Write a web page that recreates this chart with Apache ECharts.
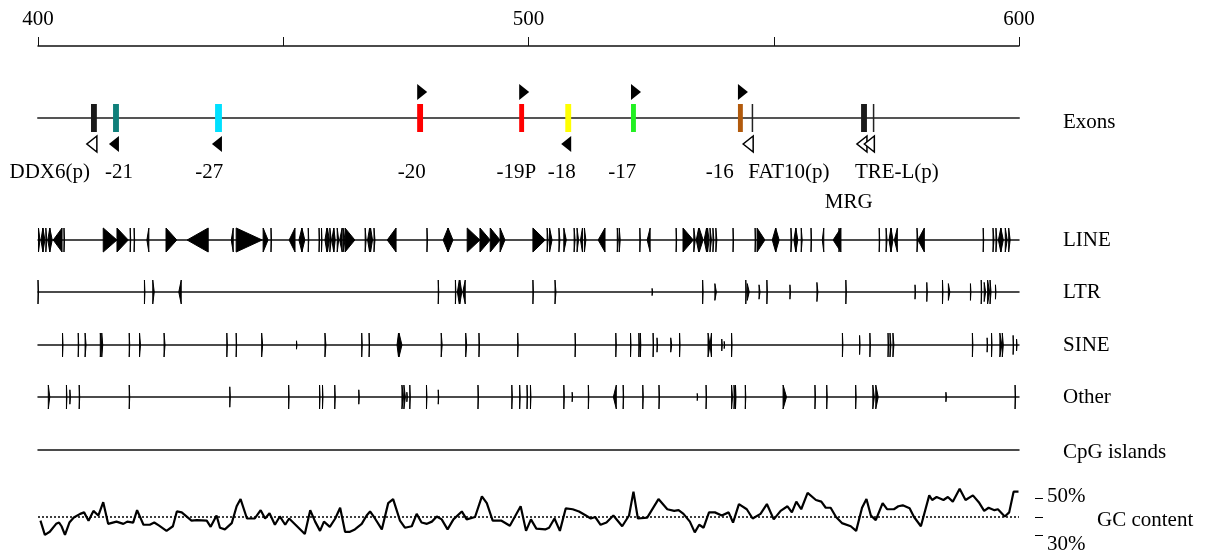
<!DOCTYPE html>
<html>
<head>
<meta charset="utf-8">
<title>Region 400-600</title>
<script src="https://cdn.jsdelivr.net/npm/echarts@6/dist/echarts.min.js"></script>
<style>
  html, body { margin: 0; padding: 0; background: #fff; }
  #chart { width: 1207px; height: 555px; }
</style>
</head>
<body>
<div id="chart"></div>
<script>
// ---- data (kb) ----
const axisTicks = [400, 450, 500, 550, 600]
const axisLabels = ['400', '', '500', '', '600']

const exonNames = ['DDX6(p)', '-21', '-27', '-20', '-19P', '-18', '-17', '-16', 'FAT10(p)', 'MRG', 'TRE-L(p)']
const exonStart = [410.8, 415.3, 436.1, 477.3, 498.1, 507.5, 520.9, 542.7, 545.5, 567.8, 570.2]
const exonEnd = [412.0, 416.5, 437.5, 478.5, 499.1, 508.7, 521.9, 543.7, 545.8, 569.0, 570.5]
const exonStrand = [-1, -1, -1, 1, 1, -1, 1, 1, -1, -1, -1]
const exonKind = ['gene', 'exon', 'exon', 'exon', 'exon', 'exon', 'exon', 'exon', 'gene', 'gene', 'gene']
const exonLabelAt = [402.4, 416.5, 434.9, 476.2, 497.5, 506.8, 519.1, 539.0, 553.1, 565.3, 575.1]
const exonLabelRow = [0, 0, 0, 0, 0, 0, 0, 0, 0, 1, 0]

// repeats: [start, end, strand, score]
const LINE = [
  [400.1, 400.4, 1], [400.6, 401.0, -1], [401.0, 401.4, 1], [401.6, 401.8, 1], [402.0, 402.4, -1], [402.4, 402.9, 1],
  [403.1, 404.9, -1], [405.3, 405.4, 1],
  [413.3, 416.1, 1], [416.1, 418.4, 1], [418.8, 418.9, 1], [419.6, 419.7, 1],
  [422.2, 422.6, -1], [426.1, 428.3, 1], [430.4, 434.7, -1],
  [439.4, 439.8, -1], [440.4, 445.7, 1], [445.9, 446.9, 1], [447.5, 447.6, 1],
  [451.2, 452.4, -1], [453.2, 453.8, -1], [453.8, 454.4, 1], [455.1, 455.2, 1],
  [457.3, 457.4, 1], [457.8, 457.9, 1], [458.5, 458.9, -1], [459.0, 459.4, 1], [459.5, 459.8, 1], [459.9, 460.3, -1],
  [460.3, 460.6, 1], [461.0, 461.3, 1], [461.5, 462.0, -1], [462.2, 462.6, 1], [462.6, 464.6, 1],
  [466.7, 466.9, 1], [467.2, 467.6, -1], [467.8, 468.2, 1], [468.5, 468.7, 1],
  [471.2, 473.0, -1], [479.3, 479.4, 1],
  [482.6, 483.6, -1], [483.6, 484.6, 1],
  [487.5, 490.1, 1], [490.1, 492.2, 1], [492.2, 494.2, 1], [494.2, 495.2, 1],
  [500.9, 503.4, 1], [503.8, 504.0, 1], [504.3, 504.8, 1], [506.2, 506.4, 1], [507.2, 507.7, 1],
  [509.3, 509.5, 1], [509.9, 510.2, 1], [510.6, 511.0, -1], [511.4, 511.7, 1],
  [514.2, 515.6, -1], [518.1, 518.3, 1], [518.5, 518.7, 1], [522.7, 522.8, 1], [524.2, 524.8, -1], [530.1, 530.2, 1],
  [531.5, 533.6, 1], [533.7, 534.0, 1], [534.2, 534.7, -1], [534.8, 535.6, 1], [535.8, 536.3, -1], [536.5, 536.8, 1],
  [537.0, 537.3, 1], [537.6, 537.8, 1], [538.2, 538.4, 1],
  [541.7, 541.8, 1], [546.2, 546.3, 1], [546.6, 548.2, 1],
  [549.7, 550.4, -1], [550.4, 551.1, 1],
  [553.5, 553.7, 1], [554.1, 554.5, -1], [554.5, 554.9, 1], [555.6, 555.8, 1],
  [557.6, 557.7, 1], [559.9, 560.2, -1], [562.1, 563.7, -1], [563.3, 563.5, 1],
  [571.5, 571.6, 1], [572.9, 573.1, 1], [573.5, 573.9, -1], [573.9, 574.3, 1], [574.6, 575.2, -1],
  [579.2, 579.4, 1], [579.4, 580.7, -1],
  [592.7, 592.8, 1], [594.7, 594.9, 1], [595.3, 595.5, 1], [595.8, 596.3, -1], [596.3, 596.8, 1], [597.2, 597.6, 1], [597.9, 598.2, 1]
]

const LTR = [
  [400.0, 400.1, 1], [421.7, 421.8, 1], [423.4, 423.7, 1], [428.7, 429.2, -1],
  [481.6, 481.7, 1], [485.1, 485.2, 1], [485.5, 485.9, -1], [486.0, 486.4, 1], [486.6, 487.1, -1],
  [500.9, 501.0, 1], [505.4, 505.6, 1], [525.2, 525.3, 1, 0.3],
  [535.5, 535.6, 1], [538.0, 538.3, 1, 0.7],
  [544.3, 544.4, 1], [544.6, 545.0, 1, 0.7], [547.0, 547.2, 1, 0.6], [548.6, 548.7, 1],
  [553.3, 553.4, 1, 0.6], [558.8, 559.0, 1, 0.8], [564.7, 564.8, 1],
  [578.8, 578.9, 1, 0.6], [581.2, 581.3, 1, 0.8], [584.4, 584.5, 1], [585.6, 585.9, 1, 0.7], [590.1, 590.2, 1, 0.7],
  [592.3, 592.4, 1], [592.9, 593.2, 1, 0.8], [593.6, 594.0, 1], [594.1, 594.3, 1], [595.2, 595.3, 1, 0.6]
]

const SINE = [
  [405.0, 405.1, 1], [408.2, 408.3, 1], [409.6, 409.8, 1], [412.7, 413.0, 1], [413.0, 413.2, 1], [418.6, 418.7, 1],
  [420.7, 420.9, 1], [425.7, 425.9, 1],
  [438.5, 438.6, 1], [440.4, 440.5, 1], [445.6, 445.8, 1], [452.7, 452.8, 1, 0.35], [458.5, 458.7, 1],
  [466.0, 466.1, 1], [467.5, 467.6, 1], [473.2, 473.5, -1], [473.6, 474.2, 1], [482.2, 482.4, 1], [487.2, 487.4, 1],
  [489.9, 490.0, 1], [497.8, 497.9, 1],
  [509.5, 509.6, 1], [517.8, 517.9, 1], [520.8, 520.9, 1], [522.5, 522.6, 1], [522.8, 522.9, 1], [525.4, 525.5, 1],
  [526.2, 526.3, 1, 0.6], [529.0, 529.2, 1, 0.6], [530.8, 530.9, 1],
  [536.6, 537.0, 1], [537.0, 537.3, -1], [539.4, 539.5, 1, 0.5], [539.9, 540.0, 1, 0.3], [541.4, 541.5, 1],
  [564.0, 564.1, 1], [567.5, 567.6, 1, 0.8], [569.6, 569.7, 1], [573.3, 573.4, 1], [573.7, 573.9, 1], [574.3, 574.5, 1],
  [590.5, 590.6, 1], [593.5, 593.6, 1, 0.6], [594.4, 594.5, 1], [596.1, 596.5, 1], [596.6, 596.8, 1],
  [598.8, 598.9, 1, 0.8], [599.5, 599.6, 1, 0.5]
]

const OTHER = [
  [402.1, 402.4, 1], [405.8, 405.9, 1], [406.5, 406.6, 1, 0.6], [408.4, 408.5, 1], [418.6, 418.7, 1], [439.1, 439.2, 1, 0.85],
  [451.1, 451.2, 1], [457.4, 457.5, 1], [458.0, 458.1, 1], [460.5, 460.6, 1], [465.4, 465.5, 1, 0.6],
  [474.2, 474.5, 1], [474.6, 474.9, 1], [475.2, 475.3, 1, 0.4], [475.8, 475.9, 1], [479.2, 479.3, 1], [481.6, 481.7, 1, 0.6],
  [489.7, 489.8, 1], [496.6, 496.7, 1], [498.2, 498.3, 1], [499.7, 499.8, 1], [500.4, 500.5, 1],
  [507.2, 507.3, 1], [508.9, 509.0, 1, 0.4], [512.2, 512.3, 1], [517.3, 517.9, -1], [519.3, 519.4, 1], [523.3, 523.4, 1],
  [526.6, 526.7, 1], [534.4, 534.5, 1, 0.3], [536.2, 536.3, 1], [541.4, 541.6, 1], [541.9, 542.1, 1], [542.2, 542.3, 1],
  [544.2, 544.3, 1], [551.9, 552.6, 1], [558.4, 558.5, 1], [560.8, 560.9, 1], [566.7, 566.8, 1], [570.2, 570.5, 1],
  [570.8, 571.3, 1], [585.1, 585.2, 1, 0.4], [599.2, 599.3, 1]
]

const CPG = []

const trackNames = ['LINE', 'LTR', 'SINE', 'Other', 'CpG islands']
const trackData = [LINE, LTR, SINE, OTHER, CPG]

// GC content (%), window positions in kb
const gcPos = [
  400.5, 401.4, 402.4, 403.7, 404.3, 404.8, 405.5, 406.4, 407.3, 408.6, 409.4, 410.3, 411.3, 412.3, 413.3, 414.3,
  416.0, 417.4, 418.2, 419.4, 420.2, 421.5, 422.8, 423.7, 424.7, 426.2, 427.5, 428.3, 429.3, 431.3, 432.4, 434.4,
  435.2, 436.4, 437.1, 438.1, 439.5, 440.5, 441.3, 442.6, 444.2, 445.4, 446.3, 447.2, 448.3, 449.3, 450.4, 451.2,
  452.7, 454.4, 455.5, 456.5, 457.5, 458.3, 459.5, 460.6, 461.6, 462.6, 463.6, 464.6, 466.0, 467.0, 467.7, 468.7,
  470.1, 471.4, 472.4, 473.8, 474.8, 476.2, 477.2, 478.2, 479.3, 480.3, 481.3, 482.3, 483.5, 484.7, 486.4, 487.4,
  489.1, 490.5, 491.5, 492.7, 494.5, 496.2, 498.4, 499.5, 500.5, 501.6, 503.4, 504.2, 505.3, 506.4, 507.6, 509.0,
  510.3, 511.7, 512.7, 513.6, 514.7, 515.9, 517.3, 519.1, 520.5, 521.4, 522.3, 524.2, 526.5, 528.3, 529.7, 530.6,
  531.6, 532.9, 533.9, 534.8, 535.7, 536.8, 538.0, 539.4, 540.8, 541.7, 542.9, 544.5, 545.7, 547.3, 548.6, 550.0,
  551.4, 552.8, 553.7, 554.6, 555.6, 556.9, 558.6, 559.7, 560.6, 561.6, 562.7, 563.9, 565.7, 566.8, 568.0, 568.9,
  569.8, 570.8, 572.2, 573.1, 574.5, 575.4, 576.3, 577.7, 578.6, 580.0, 581.7, 582.3, 583.2, 584.6, 585.5, 586.5,
  587.9, 589.1, 590.6, 591.8, 592.9, 593.8, 595.0, 595.7, 597.1, 598.0, 598.9, 599.9
]
const gcValue = [
  38.0, 30.3, 32.0, 36.3, 37.0, 35.0, 30.3, 37.0, 39.7, 41.7, 42.5, 38.0, 43.3, 40.8, 48.0, 36.3,
  37.5, 36.3, 37.5, 37.0, 43.7, 35.8, 35.8, 37.0, 35.3, 32.5, 35.0, 43.0, 42.5, 38.0, 38.3, 38.0,
  34.7, 40.8, 34.2, 33.3, 36.7, 45.8, 49.7, 39.2, 39.2, 43.7, 39.2, 42.0, 35.8, 40.3, 35.8, 39.2,
  35.3, 30.8, 43.7, 37.5, 32.5, 37.5, 34.7, 39.2, 45.0, 32.0, 32.0, 33.3, 36.3, 40.8, 43.0, 39.2,
  33.3, 47.5, 49.7, 38.0, 34.2, 35.0, 41.7, 37.0, 36.3, 37.5, 40.3, 38.7, 33.3, 38.7, 43.0, 38.7,
  40.0, 51.2, 47.5, 38.0, 38.0, 35.3, 45.8, 32.5, 38.7, 33.7, 33.3, 34.2, 39.2, 32.5, 44.7, 44.2,
  43.0, 40.8, 39.2, 40.0, 35.8, 37.0, 40.8, 35.0, 40.8, 53.7, 39.2, 39.7, 49.7, 44.2, 43.3, 43.7,
  41.7, 37.5, 31.7, 35.8, 34.2, 42.5, 42.5, 40.8, 42.5, 37.0, 47.0, 44.2, 39.2, 41.7, 47.0, 38.7,
  43.3, 45.8, 42.5, 48.3, 44.2, 53.0, 49.2, 48.3, 45.0, 45.0, 40.0, 36.7, 35.0, 32.5, 45.0, 49.7,
  40.8, 38.3, 47.5, 44.2, 44.2, 45.8, 46.3, 44.7, 40.0, 35.0, 51.7, 49.2, 50.8, 49.2, 50.8, 48.3,
  55.3, 49.2, 51.7, 48.0, 43.3, 45.0, 43.7, 44.2, 40.3, 42.5, 53.7, 53.7
]
const gcTicks = [30, 40, 50]
const gcBaseline = 40

// ---- layout / styles ----
const FONT = '"Liberation Serif", "Times New Roman", serif'
const FS = 21
const LEFT = 38
const RIGHT = 188
const exonY = 118
const trackY = [240, 292, 345, 397, 450]
const exonColors = {
  'DDX6(p)': '#1a1a1a',
  '-21': '#0f7f7a',
  '-27': '#00e0ff',
  '-20': '#ff0000',
  '-19P': '#ff0000',
  '-18': '#ffff00',
  '-17': '#22f022',
  '-16': '#b25a0c',
  'FAT10(p)': '#222',
  MRG: '#1a1a1a',
  'TRE-L(p)': '#222'
}

const chart = echarts.init(document.getElementById('chart'), null, { renderer: 'canvas' })

function trackXAxis (gridIndex, lineColor, lineWidth) {
  return {
    type: 'value',
    gridIndex: gridIndex,
    min: 400,
    max: 600,
    axisLine: { show: true, onZero: true, lineStyle: { color: lineColor, width: lineWidth } },
    axisTick: { show: false },
    axisLabel: { show: false },
    splitLine: { show: false }
  }
}

// triangle pointing along the strand, base at the 5' end
function renderRepeat (params, api) {
  const a = api.coord([api.value(0), 0])
  const b = api.coord([api.value(1), 0])
  const h = api.size([0, 1])[1] * api.value(3)
  const y = a[1]
  const pts = api.value(2) > 0
    ? [[a[0], y - h], [a[0], y + h], [b[0], y]]
    : [[b[0], y - h], [b[0], y + h], [a[0], y]]
  return {
    type: 'polygon',
    shape: { points: pts },
    style: { fill: '#000', stroke: '#000', lineWidth: 1 }
  }
}

function renderExon (params, api) {
  const i = params.dataIndex
  const top = api.coord([api.value(0), 1])
  const bottom = api.coord([api.value(1), -1])
  const yc = (top[1] + bottom[1]) / 2
  const name = exonNames[i]
  const children = [{
    type: 'rect',
    shape: { x: top[0], y: top[1], width: Math.max(bottom[0] - top[0], 1.5), height: bottom[1] - top[1] },
    style: { fill: exonColors[name] }
  }]
  const open = exonKind[i] === 'gene'
  let pts
  if (exonStrand[i] > 0) {
    const ay = yc - 26
    pts = [[top[0], ay - 8], [top[0], ay + 8], [top[0] + 10, ay]]
  } else {
    const ay = yc + 26
    const xr = Math.max(bottom[0], top[0] + 1.5)
    pts = [[xr, ay - 8], [xr, ay + 8], [xr - 10, ay]]
  }
  children.push({
    type: 'polygon',
    shape: { points: pts },
    style: open ? { fill: '#fff', stroke: '#000', lineWidth: 1.5 } : { fill: '#000' }
  })
  const lx = api.coord([exonLabelAt[i], 0])[0]
  children.push({
    type: 'text',
    x: lx,
    y: yc + 54 + exonLabelRow[i] * 30,
    style: { text: name, font: FS + 'px ' + FONT, fill: '#000', align: 'center', verticalAlign: 'middle' }
  })
  return { type: 'group', children: children }
}

const grids = [
  { left: LEFT, right: RIGHT, top: 45, height: 1 },
  { left: LEFT, right: RIGHT, top: exonY - 14, height: 28 }
]
trackY.forEach(function (y) {
  grids.push({ left: LEFT, right: RIGHT, top: y - 12, height: 24 })
})
grids.push({ left: LEFT, right: RIGHT, top: 480, height: 80 })

const xAxes = [{
  type: 'value',
  gridIndex: 0,
  position: 'top',
  min: 400,
  max: 600,
  interval: 50,
  axisLine: { lineStyle: { color: '#111', width: 1.5 } },
  axisTick: { length: 9, lineStyle: { color: '#111', width: 1 } },
  axisLabel: {
    margin: 15,
    color: '#000',
    fontFamily: FONT,
    fontSize: FS,
    formatter: function (v) { return axisLabels[axisTicks.indexOf(v)] || '' }
  },
  splitLine: { show: false }
}, trackXAxis(1, '#555', 2)]
const yAxes = [
  { type: 'value', gridIndex: 0, show: false },
  { type: 'value', gridIndex: 1, show: false, min: -1, max: 1 }
]
trackY.forEach(function (y, k) {
  xAxes.push(trackXAxis(k + 2, '#111', 1.5))
  yAxes.push({ type: 'value', gridIndex: k + 2, show: false, min: -1, max: 1 })
})
const gcGrid = trackY.length + 2
xAxes.push({
  type: 'value', gridIndex: gcGrid, min: 400, max: 600, show: false
})
yAxes.push({
  type: 'value',
  gridIndex: gcGrid,
  position: 'right',
  offset: 16,
  min: 20,
  max: 60,
  interval: 10,
  axisLine: { show: false },
  axisTick: { show: true, customValues: gcTicks, length: 8, lineStyle: { color: '#000', width: 1 } },
  axisLabel: {
    customValues: gcTicks,
    margin: 12,
    color: '#000',
    fontFamily: FONT,
    fontSize: FS,
    formatter: function (v) {
      if (v === gcBaseline) return ''
      return v < gcBaseline ? '{low|' + v + '%}' : '{high|' + v + '%}'
    },
    rich: {
      low: { fontFamily: FONT, fontSize: FS, color: '#000', padding: [18, 0, 0, 0] },
      high: { fontFamily: FONT, fontSize: FS, color: '#000', padding: [0, 0, 4, 0] }
    }
  },
  splitLine: { show: false }
})

const series = [{
  type: 'custom',
  xAxisIndex: 1,
  yAxisIndex: 1,
  renderItem: renderExon,
  data: exonNames.map(function (n, i) { return [exonStart[i], exonEnd[i], exonStrand[i]] }),
  encode: { x: [0, 1] },
  silent: true,
  z: 5
}]
trackData.forEach(function (d, k) {
  series.push({
    type: 'custom',
    xAxisIndex: k + 2,
    yAxisIndex: k + 2,
    renderItem: renderRepeat,
    data: d.map(function (r) { return [r[0], r[1], r[2], r[3] == null ? 1 : r[3]] }),
    encode: { x: [0, 1] },
    silent: true,
    z: 5
  })
})
series.push({
  type: 'line',
  xAxisIndex: gcGrid,
  yAxisIndex: gcGrid,
  data: gcPos.map(function (p, i) { return [p, gcValue[i]] }),
  showSymbol: false,
  symbol: 'none',
  lineStyle: { color: '#000', width: 2.2 },
  markLine: {
    silent: true,
    symbol: 'none',
    label: { show: false },
    lineStyle: { color: '#000', type: [2, 2], width: 1.5 },
    data: [{ yAxis: gcBaseline }]
  }
})

// track names on the right
const names = [{ text: 'Exons', y: exonY + 4 }]
trackNames.forEach(function (n, k) {
  names.push({ text: n, y: trackY[k] + (k === 4 ? 2 : 0) })
})
const graphic = names.map(function (n) {
  return {
    type: 'text',
    x: 1063,
    y: n.y,
    silent: true,
    style: { text: n.text, font: FS + 'px ' + FONT, fill: '#000', verticalAlign: 'middle' }
  }
})
graphic.push({
  type: 'text',
  x: 1097,
  y: 520,
  silent: true,
  style: { text: 'GC content', font: FS + 'px ' + FONT, fill: '#000', verticalAlign: 'middle' }
})

chart.setOption({
  animation: false,
  backgroundColor: '#fff',
  grid: grids,
  xAxis: xAxes,
  yAxis: yAxes,
  series: series,
  graphic: graphic
})
</script>
</body>
</html>
